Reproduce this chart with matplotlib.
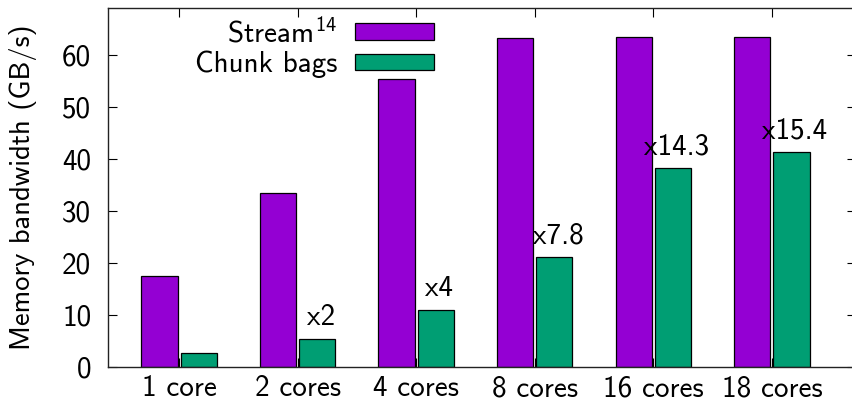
import matplotlib
matplotlib.use("Agg")
import matplotlib.pyplot as plt
from matplotlib.patches import Patch
import numpy as np

# Measured bandwidth per core count
categories = ["1 core", "2 cores", "4 cores", "8 cores", "16 cores", "18 cores"]
stream = [17.5, 33.4, 55.3, 63.2, 63.5, 63.5]
chunk_bags = [2.7, 5.4, 10.9, 21.1, 38.2, 41.3]
speedup_labels = ["", "x2", "x4", "x7.8", "x14.3", "x15.4"]
y_ticks = [0, 10, 20, 30, 40, 50, 60]

PURPLE = "#9400d3"
GREEN = "#009e73"
FS = 21

plt.rcParams["font.family"] = ["cmss10", "DejaVu Sans"]
plt.rcParams["mathtext.fontset"] = "custom"
plt.rcParams["mathtext.rm"] = "cmss10"
plt.rcParams["mathtext.it"] = "cmss10"
plt.rcParams["mathtext.bf"] = "cmss10"
plt.rcParams["axes.unicode_minus"] = False

W, H = 853, 407
fig = plt.figure(figsize=(W / 100, H / 100), dpi=100)
ax = fig.add_axes([108 / W, 40 / H, 748 / W, 359 / H])

x = np.arange(len(categories))
bw = 0.305
off = 0.166
ax.bar(x - off, stream, bw, color=PURPLE, edgecolor="black", linewidth=0.9, zorder=2)
ax.bar(x + off, chunk_bags, bw, color=GREEN, edgecolor="black", linewidth=0.9, zorder=2)

for xi, val, lab in zip(x, chunk_bags, speedup_labels):
    if lab:
        ax.annotate(lab, (xi + off, val), xytext=(2.5, 10), textcoords="offset points",
                    ha="center", va="baseline", fontsize=FS, zorder=3)

ax.set_xlim(-0.6, -0.6 + 748 / 118.54)
ax.set_ylim(0, 69)
ax.set_xticks(x)
ax.set_xticklabels(categories, fontsize=FS)
ax.set_yticks(y_ticks)
ax.set_yticklabels([str(v) for v in y_ticks], fontsize=FS)
ax.set_axisbelow(True)
ax.tick_params(axis="both", direction="in", length=6.5, width=0.8, color="black",
               top=True, right=True)
ax.tick_params(axis="y", pad=12)
ax.tick_params(axis="x", pad=6)
for s in ax.spines.values():
    s.set_linewidth(1.0)
    s.set_color("#222222")
    s.set_zorder(4)

ax.set_ylabel("Memory bandwidth (GB/s)", fontsize=20.5)
ax.yaxis.set_label_coords(-71 / 748, 0.5)

em = FS * 100 / 72
handles = [Patch(facecolor=PURPLE, edgecolor="black", linewidth=0.9),
           Patch(facecolor=GREEN, edgecolor="black", linewidth=0.9)]
ax.legend(handles, ["Stream$^{14}$", "Chunk bags"], loc="upper right",
          bbox_to_anchor=(434 / W, 1 - 17 / H), bbox_transform=fig.transFigure,
          markerfirst=False, frameon=False, fontsize=FS, borderpad=0, borderaxespad=0,
          handlelength=79 / em, handleheight=15 / em,
          handletextpad=18 / em, labelspacing=0.1)

fig.savefig("out.png", dpi=100)
